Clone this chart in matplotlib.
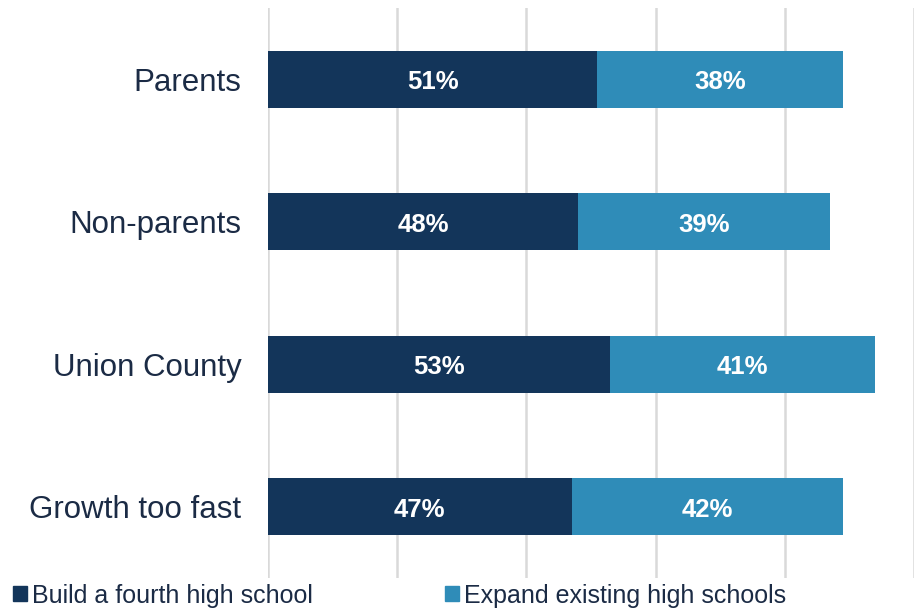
import matplotlib.pyplot as plt
from matplotlib.patches import Patch

plt.rcParams['font.family'] = ['Liberation Sans', 'DejaVu Sans']

groups = ["Parents", "Non-parents", "Union County", "Growth too fast"]
build_fourth = [51, 48, 53, 47]
expand_existing = [38, 39, 41, 42]
series_names = ["Build a fourth high school", "Expand existing high schools"]

dark = "#13355a"
light = "#2f8cb8"
text_col = "#1b2b45"

fig = plt.figure(figsize=(9.22, 6.09), dpi=100)
ax = fig.add_axes([268 / 922, 31 / 609, 646 / 922, 570 / 609])

ypos = list(range(len(groups)))
ax.barh(ypos, build_fourth, height=0.4, color=dark, zorder=3)
ax.barh(ypos, expand_existing, left=build_fourth, height=0.4, color=light, zorder=3)

for y, a, b in zip(ypos, build_fourth, expand_existing):
    ax.text(a / 2, y + 0.02, f"{a}%", ha="center", va="center", color="white",
            fontsize=18.5, fontweight="bold", zorder=4)
    ax.text(a + b / 2, y + 0.02, f"{b}%", ha="center", va="center", color="white",
            fontsize=18.5, fontweight="bold", zorder=4)

ax.set_xlim(0, 100)
ax.set_ylim(3.5, -0.5)
ax.set_xticks([0, 20, 40, 60, 80, 100])
ax.set_xticklabels([])
ax.set_yticks(ypos)
ax.set_yticklabels(groups, fontsize=22.5, color=text_col)
ax.tick_params(axis="both", length=0, pad=19)
ax.grid(axis="x", color="#d9d9d9", linewidth=1.8, zorder=0)
for s in ax.spines.values():
    s.set_visible(False)

handles = [Patch(color=dark), Patch(color=light)]
fig.legend(handles, series_names, loc="lower left", bbox_to_anchor=(0.014, 0.002),
           borderaxespad=0, borderpad=0,
           ncol=2, frameon=False, fontsize=18, handlelength=0.55, handleheight=0.55,
           handletextpad=0.2, columnspacing=5.3, labelcolor=text_col)

fig.savefig("out.png", dpi=100)
